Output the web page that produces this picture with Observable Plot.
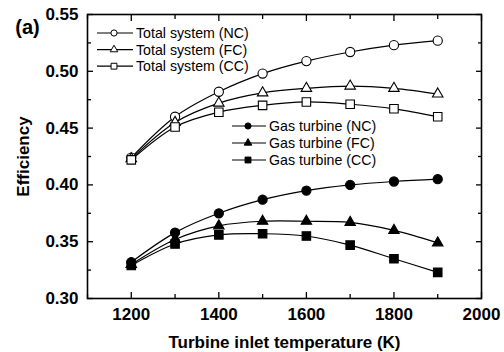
<!DOCTYPE html>
<html>
<head>
<meta charset="utf-8">
<script src="https://cdn.jsdelivr.net/npm/d3@7"></script>
<script src="https://cdn.jsdelivr.net/npm/@observablehq/plot@0.6"></script>
<style>
  html, body { margin: 0; padding: 0; background: #fff; }
  #wrap { position: relative; width: 504px; height: 352px; }
  #wrap svg.leg { position: absolute; left: 0; top: 0; pointer-events: none; }
</style>
</head>
<body>
<div id="wrap"></div>
<script>
const temps = [1200, 1300, 1400, 1500, 1600, 1700, 1800, 1900];
const totalNC = [0.424, 0.460, 0.482, 0.498, 0.509, 0.517, 0.523, 0.527];
const totalFC = [0.423, 0.455, 0.472, 0.481, 0.485, 0.487, 0.485, 0.480];
const totalCC = [0.422, 0.451, 0.464, 0.470, 0.473, 0.471, 0.467, 0.460];
const gasNC = [0.332, 0.358, 0.375, 0.387, 0.395, 0.400, 0.403, 0.405];
const gasFC = [0.330, 0.352, 0.364, 0.368, 0.368, 0.367, 0.360, 0.349];
const gasCC = [0.329, 0.348, 0.356, 0.357, 0.355, 0.347, 0.335, 0.323];

const seriesNames = ["Total system (NC)", "Total system (FC)", "Total system (CC)",
                     "Gas turbine (NC)", "Gas turbine (FC)", "Gas turbine (CC)"];
const seriesValues = [totalNC, totalFC, totalCC, gasNC, gasFC, gasCC];
const seriesSymbols = ["circle", "triangle", "square", "circle", "triangle", "square"];
const seriesFilled = [false, false, false, true, true, true];

const xMajor = [1200, 1400, 1600, 1800, 2000];
const xMinor = [1100, 1300, 1500, 1700, 1900];
const yMajor = [0.30, 0.35, 0.40, 0.45, 0.50, 0.55];
const yMinor = [0.325, 0.375, 0.425, 0.475, 0.525];
const xTitle = "Turbine inlet temperature (K)";
const yTitle = "Efficiency";
const panelTag = "(a)";

const FONT = "'Liberation Sans', Arial, Helvetica, sans-serif";
const symR = {circle: 4.6, triangle: 3.9, square: 4.8};

const rows = [];
seriesValues.forEach((vals, s) => vals.forEach((v, i) => rows.push({series: seriesNames[s], s, t: temps[i], v})));

const marks = [];
for (const anchor of ["bottom", "top"]) {
  marks.push(Plot.axisX({anchor, ticks: xMajor, tickSize: -6, tickFormat: () => "", label: null, strokeWidth: 1.3}));
  marks.push(Plot.axisX({anchor, ticks: xMinor, tickSize: -4, tickFormat: () => "", label: null, strokeWidth: 1.3}));
}
for (const anchor of ["left", "right"]) {
  marks.push(Plot.axisY({anchor, ticks: yMajor, tickSize: -6, tickFormat: () => "", label: null, strokeWidth: 1.3}));
  marks.push(Plot.axisY({anchor, ticks: yMinor, tickSize: -4, tickFormat: () => "", label: null, strokeWidth: 1.3}));
}
marks.push(Plot.axisX({ticks: xMajor, tickSize: 0, tickPadding: 9, tickFormat: d => String(d), label: null, fontSize: 17}));
marks.push(Plot.axisY({ticks: yMajor, tickSize: 0, tickPadding: 9, tickFormat: d => d.toFixed(2), label: null, fontSize: 17}));

seriesNames.forEach((name, s) => {
  const data = rows.filter(d => d.s === s);
  marks.push(Plot.line(data, {x: "t", y: "v", curve: "catmull-rom", stroke: "black", strokeWidth: 1.2}));
});
seriesNames.forEach((name, s) => {
  const data = rows.filter(d => d.s === s);
  const sym = seriesSymbols[s];
  marks.push(Plot.dot(data, {x: "t", y: "v", symbol: () => sym, r: symR[sym],
    fill: seriesFilled[s] ? "black" : "white", stroke: "black", strokeWidth: 1.1}));
});

marks.push(Plot.frame({stroke: "black", strokeWidth: 1.6}));

marks.push(Plot.text([xTitle], {text: d => d, frameAnchor: "bottom", dy: 44.5, fontSize: 17, textAnchor: "middle", lineAnchor: "middle"}));
marks.push(Plot.text([yTitle], {text: d => d, frameAnchor: "left", dx: -64, rotate: -90, fontSize: 17, textAnchor: "middle", lineAnchor: "middle"}));
marks.push(Plot.text([panelTag], {text: d => d, frameAnchor: "top-left", dx: -60, dy: 13, fontSize: 20, textAnchor: "middle", lineAnchor: "middle"}));

const chart = Plot.plot({
  width: 504, height: 352,
  marginLeft: 87, marginRight: 23, marginTop: 14, marginBottom: 54,
  x: {domain: [1100, 2000]},
  y: {domain: [0.30, 0.55]},
  style: {fontFamily: FONT, color: "black", background: "white", overflow: "visible"},
  marks
});
d3.select(chart).selectAll("text").attr("font-weight", "bold").style("font-weight", "bold");
d3.select(chart).selectAll("g[aria-label$='tick label']").attr("font-weight", "bold");
const wrap = document.getElementById("wrap");
wrap.appendChild(chart);

const leg = d3.select(wrap).append("svg").attr("class", "leg")
  .attr("width", 504).attr("height", 352);
const legendGroups = [
  {idx: [0, 1, 2], x0: 97, x1: 133, xm: 114, xt: 136, y0: 33, dy: 16.6},
  {idx: [3, 4, 5], x0: 232, x1: 266, xm: 248, xt: 269, y0: 126, dy: 17}
];
const legSymR = {circle: 3.1, triangle: 2.8, square: 3.3};
const symType = {circle: d3.symbolCircle, triangle: d3.symbolTriangle, square: d3.symbolSquare};
for (const g of legendGroups) {
  g.idx.forEach((s, k) => {
    const y = g.y0 + k * g.dy;
    const row = leg.append("g");
    row.append("line").attr("x1", g.x0).attr("x2", g.x1).attr("y1", y).attr("y2", y)
      .attr("stroke", "black").attr("stroke-width", 1.2);
    const sym = seriesSymbols[s];
    const r = legSymR[sym];
    row.append("path").attr("d", d3.symbol(symType[sym], Math.PI * r * r)())
      .attr("transform", `translate(${g.xm},${y})`)
      .attr("fill", seriesFilled[s] ? "black" : "white").attr("stroke", "black").attr("stroke-width", 1);
    row.append("text").attr("x", g.xt).attr("y", y).attr("dy", "0.35em")
      .attr("font-family", FONT).attr("font-size", 14.2).attr("fill", "black")
      .text(seriesNames[s]);
  });
}
</script>
</body>
</html>
